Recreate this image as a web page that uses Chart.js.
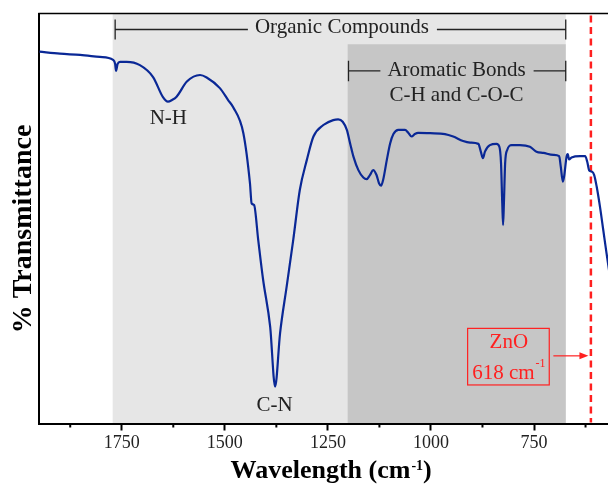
<!DOCTYPE html>
<html><head><meta charset="utf-8">
<script src="https://cdn.jsdelivr.net/npm/chart.js@4.4.1/dist/chart.umd.min.js"></script>
<style>html,body{margin:0;padding:0;background:#fff;}canvas{display:block;}</style>
</head><body>
<canvas id="c" width="608" height="484"></canvas>
<script>
// ---- data (wavenumber in cm-1, % transmittance on arbitrary 0-100 scale) ----
const wavenumber = [1950,1900,1851,1803,1771,1766,1764,1760,1754,1738,
  1706,1674,1650,1638,1628,1617,1592,1560,1544,1512,
  1492,1480,1455,1439,1435,1429,1419,1407,1390,1378,
  1366,1350,1334,1318,1301,1285,1261,1237,1225,1214,
  1204,1196,1188,1176,1164,1156,1148,1140,1132,1126,
  1121,1116,1107,1099,1091,1079,1063,1055,1047,1039,
  1031,1002,966,946,922,905,885,879,874,869,
  857,841,834,830,827,825,823,820,815,804,
  784,760,744,727,703,689,685,680,677,671,
  668,665,659,638,626,621,616,609,604,598,
  590,582,574,566];
const transmittance = [90.7,90.2,89.9,89.4,88.7,87.7,86.0,87.7,88.2,88.2,
  87.4,84.5,79.6,78.5,78.9,79.7,83.4,85.0,84.4,81.8,
  78.9,77.2,70.8,58.6,53.7,53.3,44.8,35.0,23.6,9.0,
  22.0,33.4,44.8,57.0,64.3,70.0,72.8,74.0,74.2,73.6,
  71.6,68.3,65.1,61.8,60.0,59.6,60.6,61.8,60.6,58.6,
  58.0,59.4,64.3,68.3,70.6,71.6,71.6,70.9,70.0,70.6,
  70.9,70.8,70.6,70.0,68.9,68.5,68.2,66.3,64.7,66.3,
  67.9,68.2,67.5,63.5,53.7,48.4,53.7,63.5,66.7,67.9,
  67.9,67.5,66.3,66.0,65.5,65.2,62.6,59.0,60.2,65.1,
  65.7,64.4,64.9,65.2,65.2,63.9,61.7,61.4,60.6,57.8,
  52.9,47.2,41.5,36.0];
const majorTicks = [1750,1500,1250,1000,750];
const minorTicks = [1875,1625,1375,1125,875,625];
const xRange = [570.5, 1950];
const yRange = [0, 100];
const organicRange = [1772, 673];
const aromaticRange = [1202, 673];
const aromaticTop = 92.5;
const znoPeak = 612;
const znoArrowTip = 618;
const xTitle = ['Wavelength (cm', '-1', ')'];
const yTitle = '% Transmittance';
const organicLabel = 'Organic Compounds';
const aromaticLabel = ['Aromatic Bonds', 'C-H and C-O-C'];
const peakLabels = ['N-H', 'C-N'];
const znoLabel = ['ZnO', '618 cm', '-1'];

// ---- annotation anchors (data units) ----
const ann = {
  organic: {x1: 1766, x2: 673, y: 96.1, half: 2.45, tx: 1216, ty: 96.5},
  aromatic: {x1: 1200, x2: 673, y: 86.0, half: 2.5, tx: 938, ty: 86.2, t2y: 80.1},
  nh: {x: 1637, y: 74.4},
  cn: {x: 1379, y: 4.5},
  box: {x1: 911, x2: 713, y1: 23.2, y2: 9.4, cx: 811, l1: 19.8, l2: 12.2, sup: 14.6, arrowFrom: 703, arrowY: 16.5}
};

const SERIF = '"Liberation Serif","Times New Roman",serif';
const TXT = '#222';
const RED = '#ff2020';

function X(c, v) { return c.scales.x.getPixelForValue(v); }
function Y(c, v) { return c.scales.y.getPixelForValue(v); }

const decor = {
  id: 'decor',
  beforeDraw(chart) {
    const ctx = chart.ctx, a = chart.chartArea;
    ctx.save();
    const x1 = X(chart, organicRange[0]), x2 = X(chart, organicRange[1]);
    ctx.fillStyle = '#e6e6e6';
    ctx.fillRect(x1, a.top, x2 - x1, a.bottom - a.top);
    const x3 = X(chart, aromaticRange[0]), x4 = X(chart, aromaticRange[1]);
    const yt = Y(chart, aromaticTop);
    ctx.fillStyle = '#c6c6c6';
    ctx.fillRect(x3, yt, x4 - x3, a.bottom - yt);
    // ZnO dashed line
    const xz = X(chart, znoPeak);
    ctx.strokeStyle = RED; ctx.lineWidth = 2.5; ctx.setLineDash([7, 4.5]);
    ctx.beginPath(); ctx.moveTo(xz, a.top + 2); ctx.lineTo(xz, a.bottom - 1); ctx.stroke();
    ctx.restore();
  },
  afterDraw(chart) {
    const ctx = chart.ctx, a = chart.chartArea;
    ctx.save();
    // top border
    ctx.strokeStyle = '#000'; ctx.lineWidth = 1.6;
    ctx.beginPath(); ctx.moveTo(a.left - 1, a.top); ctx.lineTo(chart.width, a.top); ctx.stroke();
    // minor ticks
    ctx.lineWidth = 2;
    minorTicks.forEach(v => {
      const x = X(chart, v);
      ctx.beginPath(); ctx.moveTo(x, a.bottom); ctx.lineTo(x, a.bottom + 4); ctx.stroke();
    });
    // brackets
    ctx.font = '21px ' + SERIF; ctx.fillStyle = TXT; ctx.strokeStyle = TXT; ctx.lineWidth = 1.3;
    ctx.textAlign = 'center'; ctx.textBaseline = 'middle';
    function bracket(b, text) {
      const xa = X(chart, b.x1), xb = X(chart, b.x2), y = Y(chart, b.y);
      const h = Y(chart, b.y - b.half) - y;
      const tx = X(chart, b.tx);
      const w = ctx.measureText(text).width;
      ctx.fillText(text, tx, Y(chart, b.ty));
      ctx.beginPath();
      ctx.moveTo(xa, y - h); ctx.lineTo(xa, y + h);
      ctx.moveTo(xb, y - h); ctx.lineTo(xb, y + h);
      ctx.moveTo(xa, y); ctx.lineTo(tx - w / 2 - 7, y);
      ctx.moveTo(tx + w / 2 + 8, y); ctx.lineTo(xb, y);
      ctx.stroke();
    }
    bracket(ann.organic, organicLabel);
    bracket(ann.aromatic, aromaticLabel[0]);
    ctx.fillText(aromaticLabel[1], X(chart, ann.aromatic.tx), Y(chart, ann.aromatic.t2y));
    ctx.fillText(peakLabels[0], X(chart, ann.nh.x), Y(chart, ann.nh.y));
    ctx.fillText(peakLabels[1], X(chart, ann.cn.x), Y(chart, ann.cn.y));
    // ZnO box
    const b = ann.box;
    const bx1 = X(chart, b.x1), bx2 = X(chart, b.x2), by1 = Y(chart, b.y1), by2 = Y(chart, b.y2);
    ctx.strokeStyle = RED; ctx.fillStyle = RED; ctx.lineWidth = 1.2;
    ctx.strokeRect(bx1, by1, bx2 - bx1, by2 - by1);
    const cx = X(chart, b.cx);
    ctx.fillText(znoLabel[0], cx, Y(chart, b.l1));
    const w1 = ctx.measureText(znoLabel[1]).width;
    ctx.font = '12px ' + SERIF;
    const w2 = ctx.measureText(znoLabel[2]).width;
    const sx = cx - (w1 + w2 + 1) / 2;
    ctx.textAlign = 'left';
    ctx.fillText(znoLabel[2], sx + w1 + 1, Y(chart, b.sup));
    ctx.font = '21px ' + SERIF;
    ctx.fillText(znoLabel[1], sx, Y(chart, b.l2));
    // arrow
    const ax1 = X(chart, b.arrowFrom), ax2 = X(chart, znoArrowTip), ay = Y(chart, b.arrowY);
    ctx.lineWidth = 1.2;
    ctx.beginPath(); ctx.moveTo(ax1, ay); ctx.lineTo(ax2 - 6, ay); ctx.stroke();
    ctx.beginPath(); ctx.moveTo(ax2, ay); ctx.lineTo(ax2 - 9, ay - 3.5); ctx.lineTo(ax2 - 9, ay + 3.5); ctx.closePath(); ctx.fill();
    // x title
    ctx.fillStyle = '#000'; ctx.textBaseline = 'alphabetic'; ctx.textAlign = 'left';
    ctx.font = 'bold 26px ' + SERIF;
    const t1 = ctx.measureText(xTitle[0]).width, t3 = ctx.measureText(xTitle[2]).width;
    ctx.font = 'bold 14px ' + SERIF;
    const t2 = ctx.measureText(xTitle[1]).width;
    const tcx = (a.left + a.right) / 2 + 7.5;
    let tx = tcx - (t1 + t2 + t3 + 1) / 2;
    const base = chart.height - 6;
    ctx.font = 'bold 26px ' + SERIF; ctx.fillText(xTitle[0], tx, base);
    ctx.font = 'bold 14px ' + SERIF; ctx.fillText(xTitle[1], tx + t1 + 1, base - 8);
    ctx.font = 'bold 26px ' + SERIF; ctx.fillText(xTitle[2], tx + t1 + t2 + 1, base);
    // y title
    ctx.save();
    ctx.translate(24, (a.top + a.bottom) / 2 + 10.5);
    ctx.rotate(-Math.PI / 2);
    ctx.textAlign = 'center'; ctx.textBaseline = 'middle';
    ctx.font = 'bold 28px ' + SERIF;
    ctx.fillText(yTitle, 0, 0);
    ctx.restore();
    ctx.restore();
  }
};

new Chart(document.getElementById('c'), {
  type: 'scatter',
  data: {
    datasets: [{
      data: wavenumber.map((w, i) => ({x: w, y: transmittance[i]})),
      showLine: true,
      borderColor: '#0a2896',
      borderWidth: 2.2,
      pointRadius: 0,
      cubicInterpolationMode: 'monotone',
      fill: false
    }]
  },
  options: {
    responsive: false,
    animation: false,
    events: [],
    layout: {padding: {top: 13.5, left: 0, right: 0, bottom: 0}},
    plugins: {legend: {display: false}, tooltip: {enabled: false}},
    scales: {
      x: {
        type: 'linear', reverse: true, min: xRange[0], max: xRange[1],
        afterBuildTicks: s => { s.ticks = majorTicks.map(v => ({value: v})); },
        afterFit: s => { s.height = 60.5; },
        ticks: {autoSkip: false, maxRotation: 0, minRotation: 0, padding: 2, color: TXT,
          font: {family: SERIF, size: 18}, callback: v => String(v)},
        grid: {drawOnChartArea: false, drawTicks: true, tickLength: 7, tickWidth: 2, tickColor: '#000'},
        border: {display: true, color: '#000', width: 2}
      },
      y: {
        min: yRange[0], max: yRange[1],
        afterFit: s => { s.width = 39.3; },
        ticks: {display: false},
        grid: {drawOnChartArea: false, drawTicks: false},
        border: {display: true, color: '#000', width: 2}
      }
    }
  },
  plugins: [decor]
});
</script>
</body></html>
